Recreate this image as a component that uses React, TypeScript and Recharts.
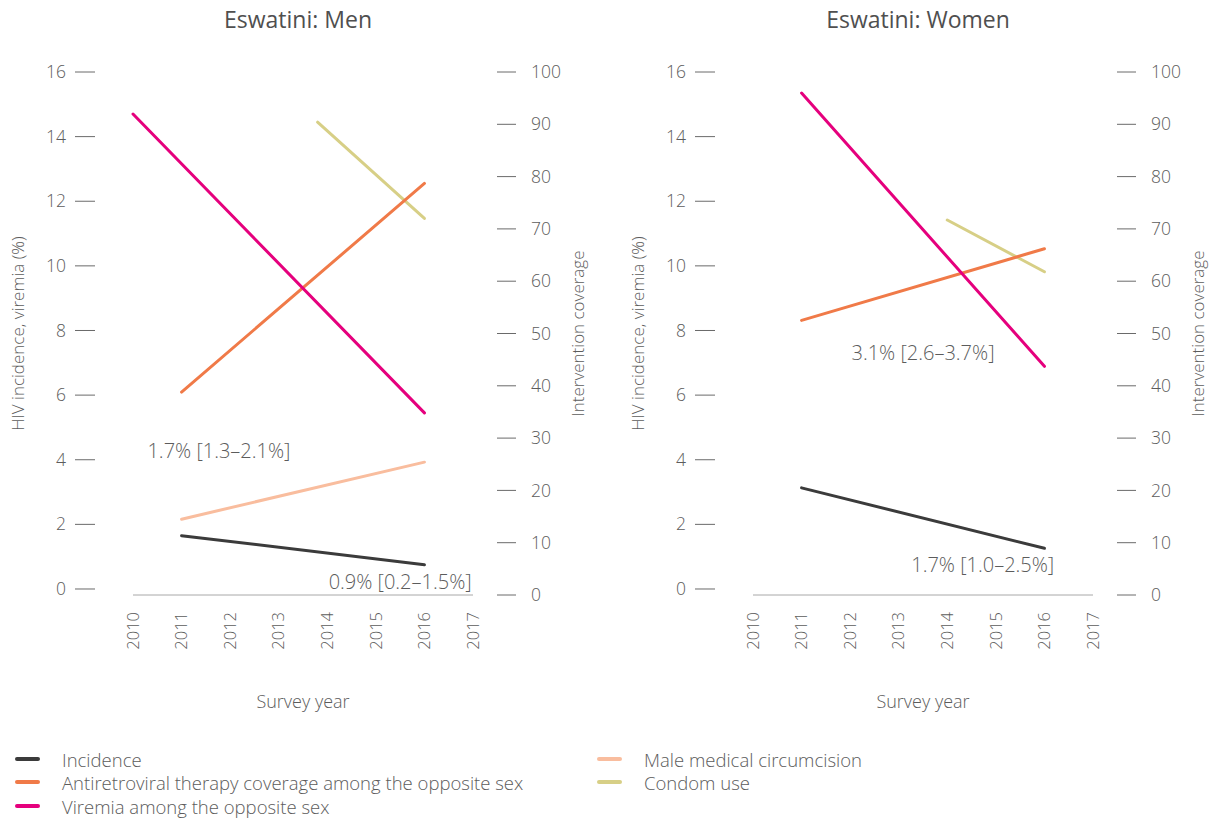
import { Line, LineChart, ReferenceDot, XAxis, YAxis } from "recharts";

const YEAR_TICKS = [2010, 2011, 2012, 2013, 2014, 2015, 2016, 2017];
const LEFT_TICKS = [0, 2, 4, 6, 8, 10, 12, 14, 16];
const RIGHT_TICKS = [0, 10, 20, 30, 40, 50, 60, 70, 80, 90, 100];

// Men
const menIncidenceYears = [2011, 2016];
const menIncidence = [1.65, 0.75];
const menArtYears = [2011, 2016];
const menArt = [38.8, 78.7];
const menViremiaYears = [2010, 2016];
const menViremia = [14.7, 5.45];
const menMmcYears = [2011, 2016];
const menMmc = [14.5, 25.4];
const menCondomYears = [2013.8, 2016];
const menCondom = [90.4, 72.0];

// Women
const womenIncidenceYears = [2011, 2016];
const womenIncidence = [3.13, 1.26];
const womenArtYears = [2011, 2016];
const womenArt = [52.5, 66.2];
const womenViremiaYears = [2011, 2016];
const womenViremia = [15.35, 6.89];
const womenCondomYears = [2014, 2016];
const womenCondom = [71.7, 61.8];

// incidence annotations
const menNotes = ["1.7% [1.3–2.1%]", "0.9% [0.2–1.5%]"];
const menNoteYears = [2011.77, 2015.5];
const menNoteValues = [4.27, 0.22];
const womenNotes = ["3.1% [2.6–3.7%]", "1.7% [1.0–2.5%]"];
const womenNoteYears = [2013.5, 2014.73];
const womenNoteValues = [7.3, 0.74];

const COLORS = {
  incidence: "#3b3b3b",
  art: "#f07a48",
  viremia: "#e5007d",
  mmc: "#f9bd9e",
  condom: "#d7cf86",
};

const FONT = "'Open Sans', Lato, sans-serif";
const TEXT = "#5c5c5c";

const toPoints = (years: number[], values: number[]) =>
  years.map((year, i) => ({ year, value: values[i] }));

type Series = { key: string; color: string; axis: "left" | "right"; pts: { year: number; value: number }[] };

const menSeries: Series[] = [
  { key: "mmc", color: COLORS.mmc, axis: "right", pts: toPoints(menMmcYears, menMmc) },
  { key: "condom", color: COLORS.condom, axis: "right", pts: toPoints(menCondomYears, menCondom) },
  { key: "art", color: COLORS.art, axis: "right", pts: toPoints(menArtYears, menArt) },
  { key: "viremia", color: COLORS.viremia, axis: "left", pts: toPoints(menViremiaYears, menViremia) },
  { key: "incidence", color: COLORS.incidence, axis: "left", pts: toPoints(menIncidenceYears, menIncidence) },
];

const womenSeries: Series[] = [
  { key: "condom", color: COLORS.condom, axis: "right", pts: toPoints(womenCondomYears, womenCondom) },
  { key: "art", color: COLORS.art, axis: "right", pts: toPoints(womenArtYears, womenArt) },
  { key: "viremia", color: COLORS.viremia, axis: "left", pts: toPoints(womenViremiaYears, womenViremia) },
  { key: "incidence", color: COLORS.incidence, axis: "left", pts: toPoints(womenIncidenceYears, womenIncidence) },
];

const LeftTick = (props: any) => {
  const { x, y, payload } = props;
  return (
    <g>
      <line x1={x - 58} x2={x - 38} y1={y} y2={y} stroke="#6a6a6a" strokeWidth={1} />
      <text x={x - 67} y={y} dy="0.35em" textAnchor="end" fill={TEXT} fontSize={17.5} fontFamily={FONT} fontWeight={300}>
        {payload.value}
      </text>
    </g>
  );
};

const RightTick = (props: any) => {
  const { x, y, payload } = props;
  return (
    <g>
      <line x1={x + 24} x2={x + 43} y1={y} y2={y} stroke="#6a6a6a" strokeWidth={1} />
      <text x={x + 58} y={y} dy="0.35em" textAnchor="start" fill={TEXT} fontSize={17.5} fontFamily={FONT} fontWeight={300}>
        {payload.value}
      </text>
    </g>
  );
};

const XTick = (props: any) => {
  const { x, y, payload } = props;
  const ty = y + 17;
  return (
    <text
      x={x}
      y={ty}
      dy="0.35em"
      textAnchor="end"
      transform={`rotate(-90, ${x}, ${ty})`}
      fill={TEXT}
      fontSize={16.5}
      fontFamily={FONT}
      fontWeight={300}
    >
      {payload.value}
    </text>
  );
};

const Panel = ({
  left,
  title,
  series,
  notes,
  noteYears,
  noteValues,
}: {
  left: number;
  title: string;
  series: Series[];
  notes: string[];
  noteYears: number[];
  noteValues: number[];
}) => (
  <div style={{ position: "absolute", left, top: 0, width: 620, height: 720 }}>
    <div
      style={{
        position: "absolute",
        left: 0,
        width: 596,
        top: 3,
        textAlign: "center",
        fontFamily: FONT,
        fontSize: 23,
        color: "#4f4f4f",
      }}
    >
      {title}
    </div>
    <LineChart width={620} height={720} margin={{ top: 72, right: 37, bottom: 0, left: 0 }}>
      <XAxis
        type="number"
        dataKey="year"
        domain={[2010, 2017]}
        ticks={YEAR_TICKS}
        height={125}
        tickSize={0}
        tickMargin={0}
        tickLine={false}
        axisLine={{ stroke: "#a8a8a8" }}
        tick={XTick}
        label={{ value: "Survey year", position: "insideBottom", offset: 12, fill: TEXT, fontSize: 18, fontFamily: FONT, fontWeight: 300 }}
      />
      <YAxis
        yAxisId="left"
        orientation="left"
        width={133}
        domain={[-0.186, 16]}
        ticks={LEFT_TICKS}
        tickSize={0}
        tickMargin={0}
        tickLine={false}
        axisLine={false}
        tick={LeftTick}
        label={{
          value: "HIV incidence, viremia (%)",
          angle: -90,
          position: "center",
          dx: -48.5,
          fill: TEXT,
          fontSize: 17,
          fontFamily: FONT,
          fontWeight: 300,
        }}
      />
      <YAxis
        yAxisId="right"
        orientation="right"
        width={110}
        domain={[0, 100]}
        ticks={RIGHT_TICKS}
        tickSize={0}
        tickMargin={0}
        tickLine={false}
        axisLine={false}
        tick={RightTick}
        label={{
          value: "Intervention coverage",
          angle: -90,
          position: "center",
          dx: 50,
          fill: TEXT,
          fontSize: 17,
          fontFamily: FONT,
          fontWeight: 300,
        }}
      />
      {series.map((s) => (
        <Line
          key={s.key}
          data={s.pts}
          dataKey="value"
          yAxisId={s.axis}
          type="linear"
          stroke={s.color}
          strokeWidth={3}
          strokeLinecap="round"
          dot={false}
          activeDot={false}
          isAnimationActive={false}
        />
      ))}
      {notes.map((n, i) => (
        <ReferenceDot
          key={n}
          x={noteYears[i]}
          y={noteValues[i]}
          yAxisId="left"
          r={0}
          fill="none"
          stroke="none"
          label={{ value: n, position: "center", fill: TEXT, fontSize: 20, fontFamily: FONT, fontWeight: 300 }}
        />
      ))}
    </LineChart>
  </div>
);

const legendLeft = [
  { label: "Incidence", color: COLORS.incidence },
  { label: "Antiretroviral therapy coverage among the opposite sex", color: COLORS.art },
  { label: "Viremia among the opposite sex", color: COLORS.viremia },
];
const legendRight = [
  { label: "Male medical circumcision", color: COLORS.mmc },
  { label: "Condom use", color: COLORS.condom },
];

const LegendItem = ({ x, y, label, color }: { x: number; y: number; label: string; color: string }) => (
  <div style={{ position: "absolute", left: x, top: y - 12, height: 24, display: "flex", alignItems: "center" }}>
    <div style={{ width: 25, height: 4, borderRadius: 2, background: color }} />
    <span style={{ marginLeft: 22, fontFamily: FONT, fontWeight: 300, fontSize: 18.5, color: TEXT, whiteSpace: "nowrap" }}>
      {label}
    </span>
  </div>
);

export default function App() {
  const rows = [759, 782, 806];
  return (
    <div style={{ position: "absolute", left: 0, top: 0, width: 1222, height: 819, background: "#fff" }}>
      <Panel left={0} title="Eswatini: Men" series={menSeries} notes={menNotes} noteYears={menNoteYears} noteValues={menNoteValues} />
      <Panel
        left={620}
        title="Eswatini: Women"
        series={womenSeries}
        notes={womenNotes}
        noteYears={womenNoteYears}
        noteValues={womenNoteValues}
      />
      {legendLeft.map((l, i) => (
        <LegendItem key={l.label} x={15} y={rows[i]} label={l.label} color={l.color} />
      ))}
      {legendRight.map((l, i) => (
        <LegendItem key={l.label} x={597} y={rows[i]} label={l.label} color={l.color} />
      ))}
    </div>
  );
}
